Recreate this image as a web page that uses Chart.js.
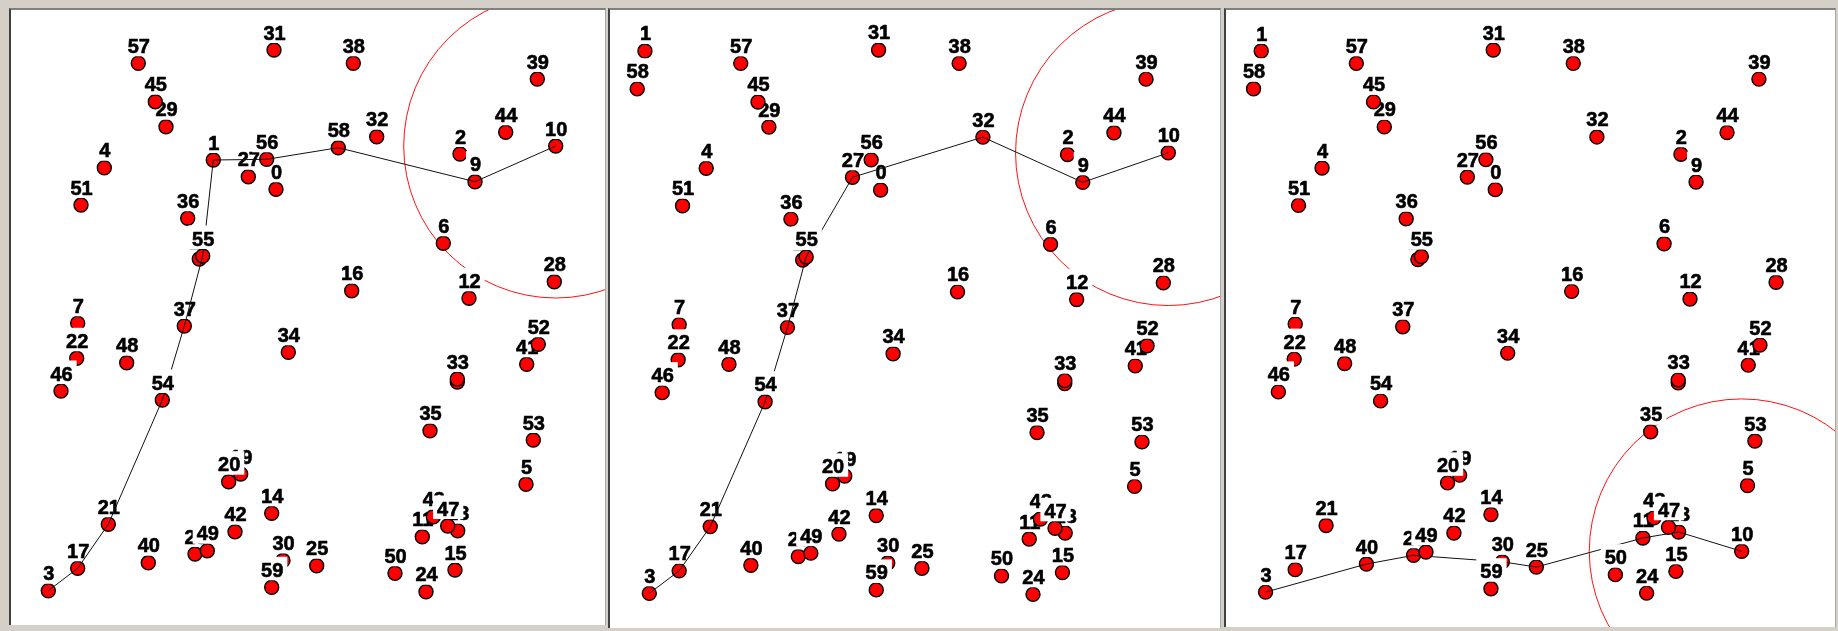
<!DOCTYPE html>
<html>
<head>
<meta charset="utf-8">
<title>Route views</title>
<script src="https://cdn.jsdelivr.net/npm/chart.js@4.4.1/dist/chart.umd.min.js"></script>
<style>
  html, body { margin: 0; padding: 0; }
  body { width: 1838px; height: 631px; background: #d4d0c8; position: relative; overflow: hidden; }
  .frame { position: absolute; top: 8px; background: #fff;
           border-left: 2px solid #404040; border-top: 2px solid #808080; border-right: 1px solid #a8a8a8; }
  canvas { position: absolute; }
</style>
</head>
<body>
<script>
// ---- node table (ids in drawing order, field coordinates) ----
const nodeIds = [
   0,  1,  2,  3,  4,  5,  6,  7,  8,  9,
  10, 11, 12, 13, 14, 15, 16, 17, 18, 19,
  20, 21, 22, 23, 24, 25, 27, 28, 29, 30,
  31, 32, 33, 34, 35, 36, 37, 38, 39, 40,
  41, 42, 43, 44, 45, 46, 47, 48, 49, 50,
  51, 52, 53, 54, 55, 56, 57, 58, 59
];
const nodeX = [
  265.0, 202.3, 449.0,  37.3,  93.3, 515.0, 432.3,  66.7, 446.3, 464.0,
  544.7, 411.3, 458.0, 446.7, 260.7, 444.0, 340.7,  66.7, 188.3, 229.7,
  217.7,  97.3,  65.7, 184.0, 415.0, 305.7, 237.3, 543.3, 155.0, 272.0,
  263.0, 365.7, 446.3, 277.3, 419.0, 176.7, 173.3, 342.3, 526.3, 137.3,
  515.7, 224.0, 422.3, 494.7, 144.3,  50.0, 436.7, 115.7, 196.3, 384.0,
   70.0, 527.3, 522.3, 151.3, 191.7, 255.7, 127.3, 327.3, 260.7
];
const nodeY = [
  189.3, 160.0, 154.0, 590.7, 167.7, 484.3, 243.3, 323.3, 382.0, 181.7,
  146.0, 536.7, 298.3, 530.7, 513.3, 570.0, 290.7, 568.3, 259.0, 474.0,
  481.7, 524.3, 358.3, 554.0, 591.7, 565.7, 176.7, 281.7, 126.7, 560.5,
   50.0, 136.7, 379.0, 352.3, 430.7, 218.3, 326.0,  63.3,  79.0, 562.7,
  364.3, 531.7, 516.7, 132.3, 101.7, 391.0, 526.0, 362.7, 550.7, 573.3,
  205.0, 344.3, 440.0, 400.0, 256.0, 159.3,  63.3, 147.7, 587.3
];

// ---- nodes that sit elsewhere in the second and third views ----
const movedIds = [1, 58, 10];
const view2X = [33.0, 25.4, 548.2];
const view2Y = [51.0, 88.7, 152.3];
const view3X = [33.0, 25.4, 509.2];
const view3Y = [51.0, 88.7, 550.0];

// ---- routes (node ids, start to goal) ----
const route1 = [3, 17, 21, 54, 37, 55, 1, 56, 58, 9, 10];
const route2 = [3, 17, 21, 54, 37, 55, 27, 32, 9, 10];
const route3 = [3, 40, 23, 30, 25, 11, 13, 10];

// ---- range circle around the goal node ----
const goalId = 10;
const rangeRadius = 152;

// ---- panel placement on the page ----
const panels = [
  { left: 11,   top: 10, width: 594, height: 615, xMin: 0,    xMax: 594,   yMin: 10,   yMax: 625,
    movedX: null, movedY: null, route: route1 },
  { left: 610,  top: 10, width: 610, height: 618, xMin: -1.4, xMax: 599.1, yMin: 10.2, yMax: 625.2,
    movedX: view2X, movedY: view2Y, route: route2 },
  { left: 1226, top: 10, width: 609, height: 617, xMin: -1.9, xMax: 601.7, yMin: 10.1, yMax: 625.5,
    movedX: view3X, movedY: view3Y, route: route3 }
];

const LABEL_FONT = 'bold 20px "Liberation Sans", Arial, sans-serif';

function positionsFor(panel) {
  const pos = {};
  nodeIds.forEach((id, i) => { pos[id] = { x: nodeX[i], y: nodeY[i] }; });
  if (panel.movedX) {
    movedIds.forEach((id, k) => { pos[id] = { x: panel.movedX[k], y: panel.movedY[k] }; });
  }
  return pos;
}

// Paints nodes, route legs and id labels in node order: each node's dot,
// then the route legs that end at it, then its label on an opaque box.
const nodePainter = {
  id: 'nodePainter',
  beforeDatasetDraw(chart, args) {
    if (args.index > 0) return false;
  },
  afterDatasetsDraw(chart) {
    const ctx = chart.ctx;
    const area = chart.chartArea;
    const nodeSet = chart.data.datasets[1];
    const nodeMeta = chart.getDatasetMeta(1);
    const pathSet = chart.data.datasets[2];
    const pathMeta = chart.getDatasetMeta(2);
    const route = pathSet.route;
    ctx.save();
    ctx.beginPath();
    ctx.rect(area.left, area.top, area.right - area.left, area.bottom - area.top);
    ctx.clip();
    nodeMeta.data.forEach((pt, i) => {
      const id = nodeSet.ids[i];
      pt.draw(ctx, area);
      ctx.strokeStyle = pathSet.borderColor;
      ctx.lineWidth = pathSet.borderWidth;
      for (let k = 0; k < route.length - 1; k++) {
        if (Math.max(route[k], route[k + 1]) !== id) continue;
        const a = pathMeta.data[k], b = pathMeta.data[k + 1];
        ctx.beginPath();
        ctx.moveTo(a.x, a.y);
        ctx.lineTo(b.x, b.y);
        ctx.stroke();
      }
      const text = String(id);
      ctx.font = LABEL_FONT;
      const w = ctx.measureText(text).width;
      const cx = pt.x + 0.5;
      const base = pt.y - 10.5;
      ctx.fillStyle = '#ffffff';
      ctx.fillRect(cx - w / 2 - 4, base - 20, w + 8, 23.5);
      ctx.fillStyle = '#000000';
      ctx.strokeStyle = '#000000';
      ctx.lineWidth = 0.6;
      ctx.lineJoin = 'round';
      ctx.textAlign = 'center';
      ctx.textBaseline = 'alphabetic';
      ctx.fillText(text, cx, base);
      ctx.strokeText(text, cx, base);
    });
    ctx.restore();
  }
};

panels.forEach((panel) => {
  const frame = document.createElement('div');
  frame.className = 'frame';
  frame.style.left = (panel.left - 2) + 'px';
  frame.style.width = panel.width + 'px';
  frame.style.height = panel.height + 'px';
  document.body.appendChild(frame);

  const canvas = document.createElement('canvas');
  canvas.width = panel.width;
  canvas.height = panel.height;
  canvas.style.left = panel.left + 'px';
  canvas.style.top = panel.top + 'px';
  canvas.style.width = panel.width + 'px';
  canvas.style.height = panel.height + 'px';
  document.body.appendChild(canvas);

  const pos = positionsFor(panel);
  const nodePoints = nodeIds.map(id => ({ x: pos[id].x, y: pos[id].y }));
  const routePoints = panel.route.map(id => ({ x: pos[id].x, y: pos[id].y }));
  const ringRadius = (c) => Math.abs(c.chart.scales.y.getPixelForValue(rangeRadius) - c.chart.scales.y.getPixelForValue(0));

  new Chart(canvas, {
    type: 'scatter',
    data: {
      datasets: [
        {
          data: [{ x: pos[goalId].x, y: pos[goalId].y }],
          pointRadius: ringRadius,
          pointHoverRadius: ringRadius,
          pointBackgroundColor: 'rgba(0,0,0,0)',
          pointBorderColor: '#ff1010',
          pointBorderWidth: 1,
          showLine: false
        },
        {
          ids: nodeIds,
          data: nodePoints,
          pointRadius: 7,
          pointHoverRadius: 7,
          pointBackgroundColor: '#ff0000',
          pointBorderColor: '#000000',
          pointBorderWidth: 1.4,
          showLine: false
        },
        {
          route: panel.route,
          data: routePoints,
          showLine: true,
          borderColor: '#111111',
          borderWidth: 1,
          pointRadius: 0,
          tension: 0
        }
      ]
    },
    options: {
      responsive: false,
      maintainAspectRatio: false,
      devicePixelRatio: 1,
      animation: false,
      events: [],
      layout: { autoPadding: false, padding: 0 },
      scales: {
        x: { type: 'linear', display: false, min: panel.xMin, max: panel.xMax },
        y: { type: 'linear', display: false, min: panel.yMin, max: panel.yMax, reverse: true }
      },
      plugins: { legend: { display: false }, tooltip: { enabled: false } }
    },
    plugins: [nodePainter]
  });
});
</script>
</body>
</html>
